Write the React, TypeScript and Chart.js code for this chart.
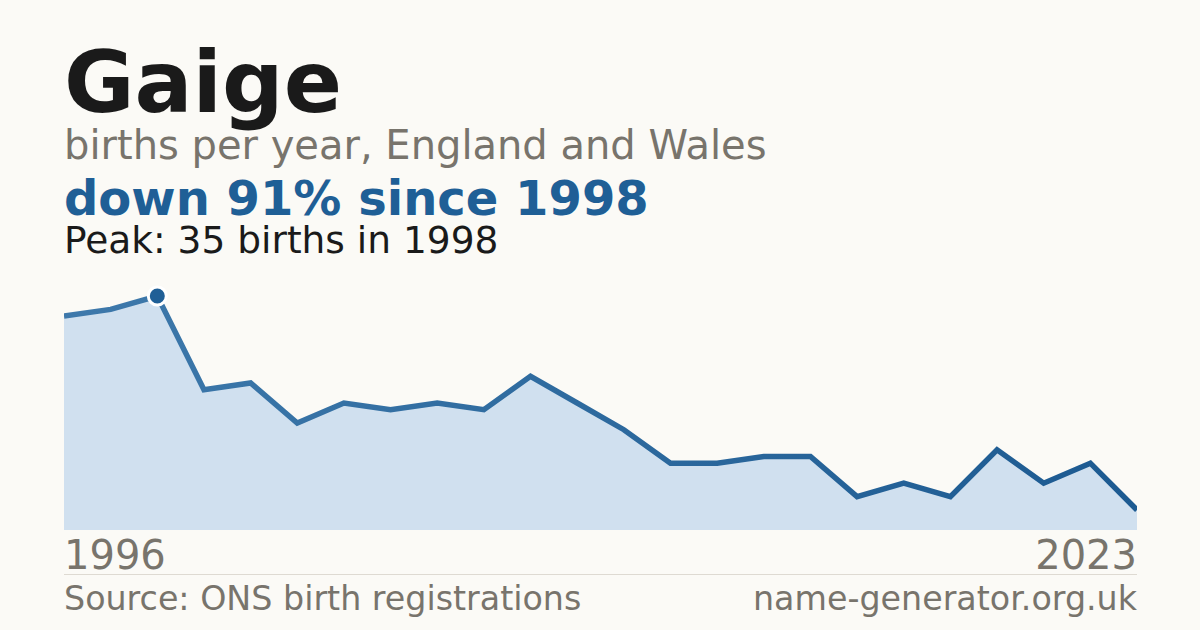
import { useEffect, useRef } from "react";
import { Chart, registerables } from "chart.js";

Chart.register(...registerables);

// ONS figures, years with no published count are left out
const years = [
  1996, 1997, 1998, 1999, 2000, 2001, 2002, 2003, 2004, 2005, 2006, 2007,
  2008, 2009, 2010, 2011, 2012, 2013, 2014, 2015, 2017, 2018, 2020, 2023,
];
const births = [32, 33, 35, 21, 22, 16, 19, 18, 19, 18, 23, 19, 15, 10, 10, 11, 11, 5, 7, 5, 12, 7, 10, 3];

const FONT = "'DejaVu Sans', sans-serif";
const BLUE = "#1f5f96";
const GREY = "#78746c";

const peakIdx = births.indexOf(Math.max(...births));

const text = (top: number, size: number, color: string, weight = 400): any => ({
  position: "absolute",
  left: 64,
  top,
  fontSize: size,
  lineHeight: 1,
  color,
  fontWeight: weight,
  fontFamily: FONT,
  whiteSpace: "nowrap",
});

const App = () => {
  const chartRef = useRef<HTMLCanvasElement>(null);

  useEffect(() => {
    const ctx = chartRef.current!.getContext("2d")!;
    const myChart = new Chart(ctx, {
      type: "line",
      data: {
        labels: years,
        datasets: [
          {
            data: births,
            fill: "origin",
            backgroundColor: "#d0e0ef",
            borderColor: (c: any) => {
              const area = c.chart.chartArea;
              if (!area) return BLUE;
              const g = c.chart.ctx.createLinearGradient(area.left, 0, area.right, 0);
              g.addColorStop(0, "#3e79ab");
              g.addColorStop(1, "#1c5a91");
              return g;
            },
            borderWidth: 5.5,
            tension: 0,
            pointRadius: births.map((_, i) => (i === peakIdx ? 9 : 0)),
            pointHoverRadius: 0,
            pointBackgroundColor: BLUE,
            pointBorderColor: "#ffffff",
            pointBorderWidth: 3,
          },
        ],
      },
      options: {
        animation: false,
        responsive: false,
        maintainAspectRatio: false,
        clip: false as any,
        layout: { padding: 0 },
        plugins: { legend: { display: false }, tooltip: { enabled: false } },
        scales: {
          x: { display: false, offset: false },
          y: { display: false, min: 0, max: 37.4 },
        },
      },
    });

    return () => {
      myChart.destroy();
    };
  }, []);

  return (
    <div
      style={{
        position: "fixed",
        left: 0,
        top: 0,
        width: 1200,
        height: 630,
        background: "#fbfaf6",
        overflow: "hidden",
      }}
    >
      <div style={text(39, 86, "#1a1a1a", 700)}>Gaige</div>
      <div style={text(125, 40, GREY)}>births per year, England and Wales</div>
      <div style={text(174, 48, BLUE, 700)}>down 91% since 1998</div>
      <div style={text(222, 37.5, "#1a1a1a")}>Peak: 35 births in 1998</div>

      <canvas
        ref={chartRef}
        width={1073}
        height={250}
        style={{ position: "absolute", left: 64, top: 280, width: 1073, height: 250 }}
      />

      <div style={text(535, 40, GREY)}>{years[0]}</div>
      <div style={{ ...text(535, 40, GREY), left: "auto", right: 63 }}>{years[years.length - 1]}</div>
      <div style={{ position: "absolute", left: 64, width: 1073, top: 574, height: 1, background: "#dedad2" }} />
      <div style={text(582, 33.3, GREY)}>Source: ONS birth registrations</div>
      <div style={{ ...text(582, 33.3, GREY), left: "auto", right: 63 }}>name-generator.org.uk</div>
    </div>
  );
};

export default App;
